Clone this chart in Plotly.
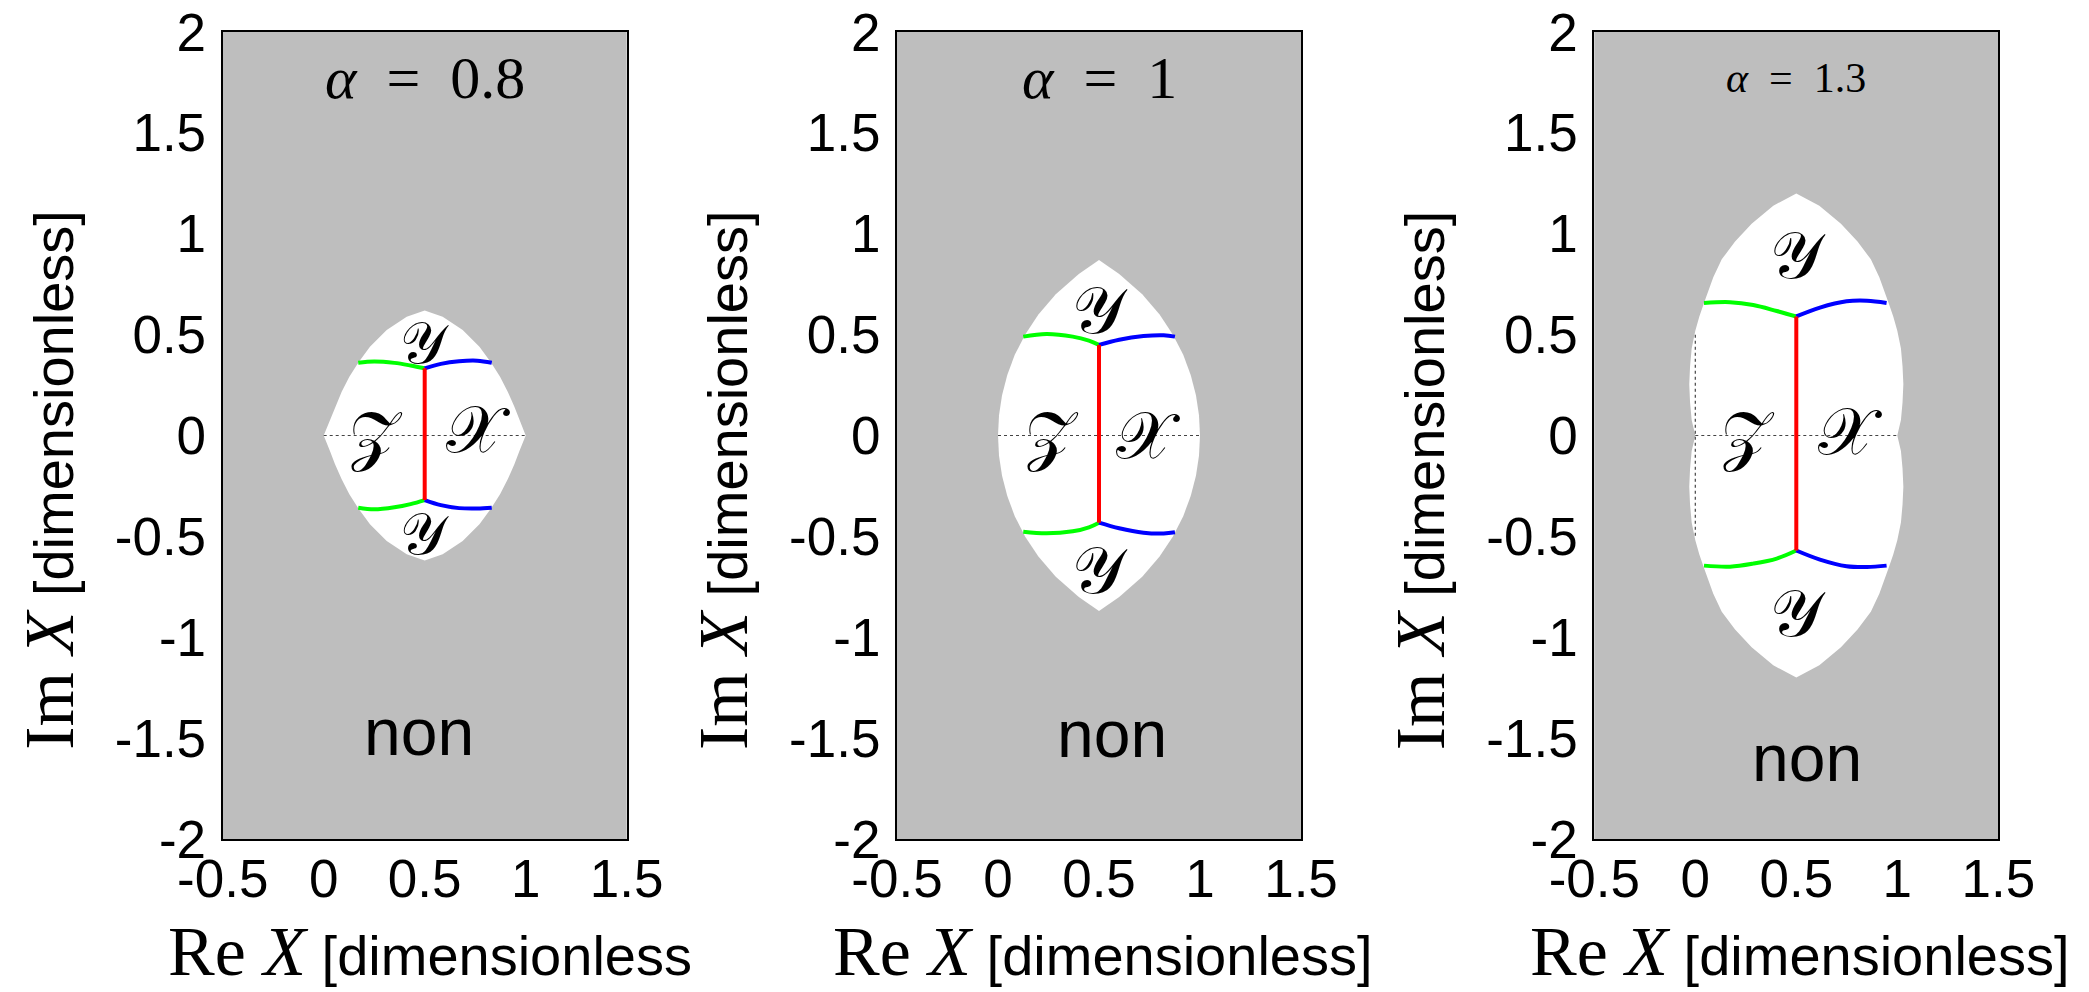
import plotly.graph_objects as go

W, H = 2089, 992

# ---------------- data ----------------
alphas = ["0.8", "1", "1.3"]

# white allowed region outlines (Re X, Im X)
reg1_x = [0, 0.031, 0.056, 0.089, 0.127, 0.171, 0.229, 0.312, 0.411, 0.5,
          0.589, 0.688, 0.771, 0.829, 0.873, 0.911, 0.944, 0.969, 1.0,
          0.969, 0.944, 0.911, 0.873, 0.829, 0.771, 0.688, 0.589, 0.5,
          0.411, 0.312, 0.229, 0.171, 0.127, 0.089, 0.056, 0.031, 0]
reg1_y = [0, 0.077, 0.143, 0.217, 0.291, 0.361, 0.44, 0.523, 0.589, 0.62,
          0.589, 0.523, 0.44, 0.361, 0.291, 0.217, 0.143, 0.077, 0,
          -0.077, -0.143, -0.217, -0.291, -0.361, -0.44, -0.523, -0.589, -0.62,
          -0.589, -0.523, -0.44, -0.361, -0.291, -0.217, -0.143, -0.077, 0]

reg2_x = [0, 0.005, 0.02, 0.046, 0.083, 0.134, 0.2, 0.286, 0.4, 0.5,
          0.6, 0.714, 0.8, 0.866, 0.917, 0.954, 0.98, 0.995, 1.0,
          0.995, 0.98, 0.954, 0.917, 0.866, 0.8, 0.714, 0.6, 0.5,
          0.4, 0.286, 0.2, 0.134, 0.083, 0.046, 0.02, 0.005, 0]
reg2_y = [0, 0.1, 0.2, 0.3, 0.4, 0.5, 0.6, 0.7, 0.8, 0.87,
          0.8, 0.7, 0.6, 0.5, 0.4, 0.3, 0.2, 0.1, 0,
          -0.1, -0.2, -0.3, -0.4, -0.5, -0.6, -0.7, -0.8, -0.87,
          -0.8, -0.7, -0.6, -0.5, -0.4, -0.3, -0.2, -0.1, 0]

reg3_x = [0, -0.018, -0.026, -0.03, -0.026, -0.018, 0.0, 0.02, 0.043, 0.089,
          0.131, 0.197, 0.279, 0.386, 0.5,
          0.614, 0.721, 0.803, 0.869, 0.911, 0.957, 0.98, 1.0, 1.018, 1.026,
          1.03, 1.026, 1.018, 1.0,
          1.018, 1.026, 1.03, 1.026, 1.018, 1.0, 0.98, 0.957, 0.911, 0.869,
          0.803, 0.721, 0.614, 0.5,
          0.386, 0.279, 0.197, 0.131, 0.089, 0.043, 0.02, 0.0, -0.018, -0.026,
          -0.03, -0.026, -0.018, 0]
reg3_y = [0, 0.077, 0.165, 0.254, 0.342, 0.431, 0.519, 0.59, 0.657, 0.785,
          0.873, 0.962, 1.05, 1.139, 1.2,
          1.139, 1.05, 0.962, 0.873, 0.785, 0.657, 0.59, 0.519, 0.431, 0.342,
          0.254, 0.165, 0.077, 0,
          -0.077, -0.165, -0.254, -0.342, -0.431, -0.519, -0.59, -0.657, -0.785, -0.873,
          -0.962, -1.05, -1.139, -1.2,
          -1.139, -1.05, -0.962, -0.873, -0.785, -0.657, -0.59, -0.519, -0.431, -0.342,
          -0.254, -0.165, -0.077, 0]

# coloured boundary curves
g1_x = [0.171, 0.25, 0.35, 0.43, 0.5]
g1_up = [0.361, 0.367, 0.36, 0.347, 0.333]
g1_lo = [-0.358, -0.366, -0.356, -0.34, -0.32]
b1_x = [0.5, 0.58, 0.67, 0.76, 0.832]
b1_up = [0.333, 0.355, 0.368, 0.371, 0.361]
b1_lo = [-0.32, -0.345, -0.36, -0.362, -0.358]
r1_y = [0.333, -0.32]

g2_x = [0.125, 0.24, 0.37, 0.45, 0.5]
g2_up = [0.49, 0.503, 0.49, 0.47, 0.449]
g2_lo = [-0.477, -0.485, -0.475, -0.455, -0.432]
b2_x = [0.5, 0.6, 0.72, 0.82, 0.876]
b2_up = [0.449, 0.475, 0.493, 0.497, 0.49]
b2_lo = [-0.432, -0.46, -0.482, -0.486, -0.48]
r2_y = [0.449, -0.432]

g3_x = [0.043, 0.172, 0.287, 0.403, 0.5]
g3_up = [0.657, 0.661, 0.647, 0.617, 0.59]
g3_lo = [-0.645, -0.65, -0.635, -0.61, -0.57]
b3_x = [0.5, 0.617, 0.749, 0.85, 0.947]
b3_up = [0.59, 0.634, 0.665, 0.668, 0.657]
b3_lo = [-0.57, -0.615, -0.648, -0.652, -0.645]
r3_y = [0.59, -0.57]

# region labels: (text, x, y) per panel
lab1 = [("𝒴", 0.5, 0.46), ("𝒴", 0.5, -0.49), ("𝒵", 0.26, 0.0), ("𝒳", 0.765, 0.03)]
lab2 = [("𝒴", 0.505, 0.62), ("𝒴", 0.505, -0.67), ("𝒵", 0.266, 0.0), ("𝒳", 0.744, 0.0)]
lab3 = [("𝒴", 0.51, 0.89), ("𝒴", 0.51, -0.88), ("𝒵", 0.262, 0.0), ("𝒳", 0.766, 0.02)]
non_pos = [(0.47, -1.47), (0.565, -1.48), (0.555, -1.60)]

xtick_vals = [-0.5, 0, 0.5, 1, 1.5]
xtick_text = ["-0.5", "0", "0.5", "1", "1.5"]
ytick_vals = [-2, -1.5, -1, -0.5, 0, 0.5, 1, 1.5, 2]
ytick_text = ["-2", "-1.5", "-1", "-0.5", "0", "0.5", "1", "1.5", "2"]

# ---------------- layout geometry (pixels) ----------------
box_left = [222.7, 897.0, 1594.3]
box_w = 404.0
box_top, box_bot = 32.0, 839.0

GRAY = "#bebebe"
SANS = "Liberation Sans"
SERIF = "Liberation Serif"

fig = go.Figure()

regions = [(reg1_x, reg1_y), (reg2_x, reg2_y), (reg3_x, reg3_y)]
greens = [(g1_x, g1_up, g1_lo), (g2_x, g2_up, g2_lo), (g3_x, g3_up, g3_lo)]
blues = [(b1_x, b1_up, b1_lo), (b2_x, b2_up, b2_lo), (b3_x, b3_up, b3_lo)]
reds = [r1_y, r2_y, r3_y]
labels = [lab1, lab2, lab3]

for i in range(3):
    xa = "x" if i == 0 else f"x{i+1}"
    ya = "y" if i == 0 else f"y{i+1}"
    rx, ry = regions[i]
    fig.add_trace(go.Scatter(x=rx, y=ry, xaxis=xa, yaxis=ya, mode="lines",
                             fill="toself", fillcolor="white",
                             line=dict(width=0, color="white"), hoverinfo="skip"))
    # dotted real axis
    fig.add_trace(go.Scatter(x=[0, 1], y=[0, 0], xaxis=xa, yaxis=ya, mode="lines",
                             line=dict(color="#444444", width=1.2, dash="dot"), hoverinfo="skip"))
    if i == 2:
        fig.add_trace(go.Scatter(x=[0, 0], y=[0.5, -0.5], xaxis=xa, yaxis=ya, mode="lines",
                                 line=dict(color="#444444", width=1.2, dash="dot"), hoverinfo="skip"))
    gx, gu, gl = greens[i]
    bx, bu, bl = blues[i]
    for yy in (gu, gl):
        fig.add_trace(go.Scatter(x=gx, y=yy, xaxis=xa, yaxis=ya, mode="lines",
                                 line=dict(color="#00ff00", width=4, shape="spline"), hoverinfo="skip"))
    for yy in (bu, bl):
        fig.add_trace(go.Scatter(x=bx, y=yy, xaxis=xa, yaxis=ya, mode="lines",
                                 line=dict(color="#0000ff", width=4, shape="spline"), hoverinfo="skip"))
    fig.add_trace(go.Scatter(x=[0.5, 0.5], y=reds[i], xaxis=xa, yaxis=ya, mode="lines",
                             line=dict(color="#ff0000", width=4), hoverinfo="skip"))

layout = dict(width=W, height=H, margin=dict(l=0, r=0, t=0, b=0, pad=0), autosize=False,
              paper_bgcolor="white", plot_bgcolor=GRAY, showlegend=False)

annotations = []
for i in range(3):
    sfx = "" if i == 0 else str(i + 1)
    x0 = box_left[i] / W
    x1 = (box_left[i] + box_w) / W
    layout["xaxis" + sfx] = dict(domain=[x0, x1], range=[-0.5, 1.5], anchor="y" + sfx,
                                 automargin=False,
                                 showgrid=False, zeroline=False, showline=True, mirror=True,
                                 linecolor="black", linewidth=2, ticks="",
                                 tickvals=xtick_vals, ticktext=xtick_text,
                                 tickfont=dict(family=SANS, size=53, color="black"),
                                 ticklabelstandoff=-8)
    layout["yaxis" + sfx] = dict(domain=[1 - box_bot / H, 1 - box_top / H], range=[-2, 2],
                                 anchor="x" + sfx, automargin=False,
                                 showgrid=False, zeroline=False, showline=True, mirror=True,
                                 linecolor="black", linewidth=2, ticks="",
                                 tickvals=ytick_vals, ticktext=ytick_text,
                                 tickfont=dict(family=SANS, size=53, color="black"),
                                 ticklabelstandoff=4)
    cx = (box_left[i] + box_w / 2) / W
    # panel title
    tsize = 60 if i < 2 else 42
    annotations.append(dict(text=f"<i>α</i>\u2002=\u2002{alphas[i]}", xref="paper", yref="paper",
                            x=cx, y=1 - 78 / H, xanchor="center", yanchor="middle",
                            showarrow=False, font=dict(family=SERIF, size=tsize, color="black")))
    # y axis title
    annotations.append(dict(
        text='<span style="font-family:Liberation Serif;font-size:70px">Im <i>X</i></span> [dimensionless]',
        xref="paper", yref="paper", x=(box_left[i] - 174) / W, y=1 - 480 / H,
        xanchor="center", yanchor="middle", textangle=-90, showarrow=False,
        font=dict(family=SANS, size=56, color="black")))
    # x axis title
    xt = '<span style="font-family:Liberation Serif;font-size:70px">Re <i>X</i></span> [dimensionless'
    if i == 0:
        annotations.append(dict(
            text=xt, xref="paper", yref="paper", x=166 / W, y=1 - 951 / H,
            xanchor="left", yanchor="middle", showarrow=False,
            font=dict(family=SANS, size=56, color="black")))
    else:
        annotations.append(dict(
            text=xt + "]", xref="paper", yref="paper", x=(box_left[i] + box_w / 2 + 4) / W,
            y=1 - 951 / H, xanchor="center", yanchor="middle", showarrow=False,
            font=dict(family=SANS, size=56, color="black")))
    # "non"
    nx, ny = non_pos[i]
    annotations.append(dict(text="non", xref="x" + sfx, yref="y" + sfx, x=nx, y=ny,
                            xanchor="center", yanchor="middle", showarrow=False,
                            font=dict(family=SANS, size=66, color="black")))
    for (t, lx, ly) in labels[i]:
        sz = 58 if (i == 0 and t == "𝒴") else 66
        annotations.append(dict(text=t, xref="x" + sfx, yref="y" + sfx, x=lx, y=ly,
                                xanchor="center", yanchor="middle", showarrow=False,
                                font=dict(family="DejaVu Serif", size=sz, color="black")))

layout["annotations"] = annotations
fig.update_layout(**layout)
fig.write_html("out.html")
